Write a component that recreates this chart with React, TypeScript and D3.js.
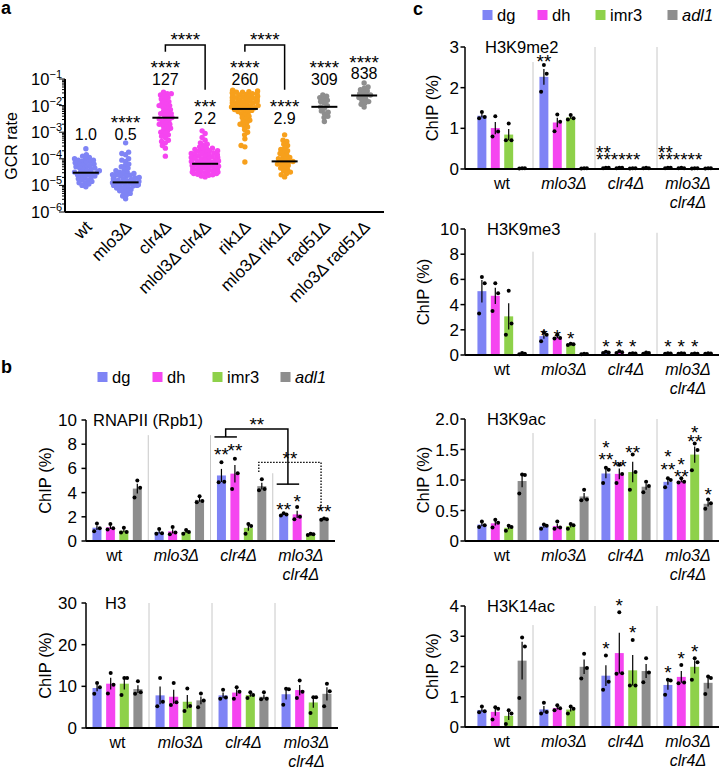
import React from 'react';
import * as d3 from 'd3';

const FONT = '"Liberation Sans", Arial, Helvetica, sans-serif';

// ---------------- Panel a: GCR rate (log10 of each measured rate) ----------------
const gcrCategories = ['wt', 'mlo3Δ', 'clr4Δ', 'mlol3Δ clr4Δ', 'rik1Δ', 'mlo3Δ rik1Δ', 'rad51Δ', 'mlo3Δ rad51Δ'];
const gcrWt = [-3.62, -3.85, -3.9, -3.95, -4.0, -4.0, -4.05, -4.1, -4.1, -4.15, -4.2, -4.2, -4.25, -4.3, -4.3, -4.35, -4.4, -4.4, -4.45, -4.5, -4.5, -4.52, -4.55, -4.6, -4.6, -4.65, -4.7, -4.7, -4.75, -4.8, -4.8, -4.85, -4.9, -4.9, -4.95, -5.0, -5.05, -4.25, -4.35, -4.55, -4.65, -4.45, -4.15, -4.05];
const gcrMlo3 = [-3.4, -3.75, -3.8, -3.85, -4.0, -4.05, -4.1, -4.2, -4.25, -4.3, -4.35, -4.4, -4.45, -4.5, -4.5, -4.55, -4.6, -4.6, -4.65, -4.65, -4.7, -4.7, -4.75, -4.75, -4.8, -4.8, -4.82, -4.85, -4.85, -4.88, -4.9, -4.9, -4.92, -4.95, -4.95, -5.0, -5.0, -5.05, -5.05, -5.1, -5.1, -5.15, -5.2, -5.2, -5.25, -5.3, -5.35, -5.4, -5.5, -4.55, -4.62, -4.72, -4.78, -4.98, -5.02];
const gcrClr4 = [-1.5, -1.55, -1.55, -1.6, -1.7, -1.75, -1.8, -1.85, -1.9, -1.95, -2.0, -2.05, -2.1, -2.15, -2.2, -2.25, -2.3, -2.35, -2.4, -2.45, -2.5, -2.55, -2.6, -2.65, -2.7, -2.75, -2.8, -2.85, -2.9, -2.95, -3.0, -3.05, -3.1, -3.15, -3.2, -3.3, -3.35, -3.4, -3.5, -3.6, -3.9, -2.0, -2.3, -2.5, -2.7, -1.65];
const gcrMlo3Clr4 = [-2.95, -3.05, -3.2, -3.3, -3.4, -3.45, -3.5, -3.55, -3.6, -3.6, -3.65, -3.65, -3.7, -3.7, -3.72, -3.75, -3.78, -3.8, -3.8, -3.82, -3.85, -3.85, -3.88, -3.9, -3.9, -3.92, -3.95, -3.95, -3.98, -4.0, -4.0, -4.02, -4.05, -4.05, -4.08, -4.1, -4.1, -4.12, -4.15, -4.15, -4.18, -4.2, -4.2, -4.22, -4.25, -4.25, -4.28, -4.3, -4.3, -4.32, -4.35, -4.35, -4.38, -4.4, -4.4, -4.42, -4.45, -4.45, -4.48, -4.5, -4.5, -4.52, -4.55, -4.55, -4.58, -4.6, -4.62, -4.65, -4.68];
const gcrRik1 = [-1.42, -1.45, -1.45, -1.48, -1.5, -1.5, -1.52, -1.55, -1.55, -1.58, -1.6, -1.6, -1.62, -1.65, -1.65, -1.68, -1.7, -1.7, -1.72, -1.75, -1.75, -1.78, -1.8, -1.8, -1.82, -1.85, -1.85, -1.88, -1.9, -1.9, -1.92, -1.95, -1.95, -1.98, -2.0, -2.0, -2.02, -2.05, -2.05, -2.08, -2.1, -2.12, -2.15, -2.18, -2.2, -2.22, -2.25, -2.3, -2.35, -2.4, -2.45, -2.5, -2.55, -2.6, -2.65, -2.7, -2.75, -2.8, -2.9, -3.0, -3.1, -3.25, -3.5, -3.55, -4.12];
const gcrMlo3Rik1 = [-3.1, -3.3, -3.35, -3.45, -3.5, -3.6, -3.65, -3.7, -3.75, -3.8, -3.85, -3.9, -3.95, -4.0, -4.0, -4.05, -4.1, -4.1, -4.15, -4.2, -4.2, -4.25, -4.3, -4.35, -4.4, -4.45, -4.5, -4.55, -4.6, -4.68];
const gcrRad51 = [-1.6, -1.65, -1.7, -1.75, -1.8, -1.85, -1.9, -2.0, -2.05, -2.1, -2.2, -2.25, -2.3, -2.4, -2.45, -2.6];
const gcrMlo3Rad51 = [-1.15, -1.3, -1.35, -1.4, -1.45, -1.5, -1.55, -1.6, -1.6, -1.65, -1.7, -1.75, -1.8, -1.85, -1.9, -1.95, -2.05];
const gcrMedians = [3e-5, 1.3e-5, 3.5e-3, 6.5e-5, 7.5e-3, 8e-5, 9e-3, 2.4e-2];
const gcrFoldLabels = ['1.0', '0.5', '127', '2.2', '260', '2.9', '309', '838'];
const gcrStarLabels = ['', '****', '****', '***', '****', '****', '****', '****'];
const gcrLabelLevels = [-3.07, -3.07, -1.0, -2.47, -1.0, -2.47, -1.0, -0.8];
const gcrDecades = [-6, -5, -4, -3, -2, -1];
const gcrBrackets = [
  { from: 2, to: 3, top: 0.28, leftEnd: 0.02, rightEnd: -1.4, label: '****', labelLevel: 0.65 },
  { from: 4, to: 5, top: 0.28, leftEnd: 0.02, rightEnd: -1.4, label: '****', labelLevel: 0.65 },
];
const gcrColors = ['#7f84f5', '#7f84f5', '#f545f0', '#f545f0', '#f7a01c', '#f7a01c', '#8e8e8e', '#8e8e8e'];

// ---------------- Panels b, c: ChIP (%) ----------------
const seriesNames = ['dg', 'dh', 'imr3', 'adl1'];
const seriesColors = ['#7f84f5', '#f545f0', '#8ed14a', '#8e8e8e'];
const groupLabels = [['wt'], ['mlo3Δ'], ['clr4Δ'], ['mlo3Δ', 'clr4Δ']];

// [series][group][replicate]
const rnapiiValues = [
  [[0.8, 1.05, 1.45], [0.6, 0.65, 1.0], [4.85, 4.9, 6.5], [2.1, 2.2, 2.3]],
  [[0.95, 1.05, 1.4], [0.55, 0.7, 1.15], [4.3, 5.6, 6.8], [1.8, 2.0, 2.8]],
  [[0.7, 0.75, 1.1], [0.6, 0.75, 0.9], [0.6, 1.25, 1.4], [0.5, 0.55, 0.6]],
  [[3.6, 4.4, 5.0], [3.2, 3.3, 3.7], [4.2, 4.3, 5.1], [1.75, 1.8, 1.85]],
];
const h3Values = [
  [[8.2, 9.8, 10.8], [5.2, 6.3, 12.0], [7.0, 7.3, 9.2], [5.6, 9.3, 9.4]],
  [[8.3, 10.4, 13.2], [5.5, 6.2, 10.8], [7.0, 8.7, 9.8], [7.2, 8.7, 11.4]],
  [[7.9, 12.0, 12.0], [4.1, 5.3, 9.5], [7.2, 7.9, 8.6], [3.6, 7.4, 7.4]],
  [[8.2, 8.6, 11.2], [5.0, 6.6, 8.3], [6.9, 7.0, 8.6], [5.2, 8.8, 10.6]],
];
const h3k9me2Values = [
  [[1.25, 1.28, 1.4], [1.9, 2.34, 2.56], [0.02, 0.03, 0.03], [0.02, 0.03, 0.03]],
  [[0.8, 0.92, 1.3], [0.93, 1.16, 1.34], [0.02, 0.03, 0.03], [0.02, 0.02, 0.03]],
  [[0.71, 0.71, 1.12], [1.22, 1.25, 1.33], [0.01, 0.02, 0.02], [0.01, 0.02, 0.02]],
  [[0.01, 0.02, 0.02], [0.01, 0.02, 0.02], [0.02, 0.02, 0.03], [0.01, 0.02, 0.02]],
];
const h3k9me3Values = [
  [[3.3, 5.7, 6.2], [1.1, 1.6, 1.8], [0.15, 0.2, 0.25], [0.1, 0.12, 0.14]],
  [[3.5, 4.9, 5.7], [1.3, 1.35, 1.6], [0.15, 0.22, 0.3], [0.1, 0.12, 0.14]],
  [[1.6, 2.5, 5.1], [0.8, 0.85, 0.9], [0.1, 0.12, 0.14], [0.08, 0.1, 0.12]],
  [[0.05, 0.1, 0.15], [0.06, 0.08, 0.1], [0.1, 0.15, 0.2], [0.1, 0.12, 0.14]],
];
const h3k9acValues = [
  [[0.23, 0.26, 0.32], [0.2, 0.25, 0.27], [0.95, 1.17, 1.2], [0.88, 1.0, 1.03]],
  [[0.22, 0.3, 0.35], [0.2, 0.22, 0.32], [0.95, 1.1, 1.25], [0.96, 0.97, 1.03]],
  [[0.17, 0.23, 0.25], [0.2, 0.26, 0.28], [0.84, 1.13, 1.42], [1.16, 1.49, 1.6]],
  [[0.78, 1.08, 1.09], [0.67, 0.68, 0.84], [0.8, 0.9, 0.97], [0.53, 0.62, 0.68]],
];
const h3k14acValues = [
  [[0.49, 0.52, 0.68], [0.45, 0.5, 0.8], [1.23, 1.5, 2.36], [1.07, 1.54, 1.56]],
  [[0.25, 0.6, 0.65], [0.55, 0.62, 0.72], [1.76, 1.78, 3.79], [1.45, 1.47, 2.05]],
  [[0.1, 0.45, 0.55], [0.45, 0.6, 0.68], [1.37, 1.37, 2.88], [1.56, 2.14, 2.27]],
  [[0.96, 2.66, 2.96], [1.6, 1.95, 2.42], [1.48, 1.8, 2.27], [1.09, 1.62, 1.67]],
];

// significance marks: group, series (-1 = left aligned in group), text, level (data units)
type Ann = { g: number; s: number; text: string; v: number };
const rnapiiAnns: Ann[] = [
  { g: 2, s: 0, text: '**', v: 7.5 }, { g: 2, s: 1, text: '**', v: 7.85 },
  { g: 3, s: 0, text: '**', v: 3.0 }, { g: 3, s: 1, text: '*', v: 3.6 }, { g: 3, s: 3, text: '**', v: 2.8 },
];
const h3k9me2Anns: Ann[] = [
  { g: 1, s: 0, text: '**', v: 2.75 },
  { g: 2, s: -1, text: '**', v: 0.52 }, { g: 2, s: -1, text: '******', v: 0.34 },
  { g: 3, s: -1, text: '**', v: 0.52 }, { g: 3, s: -1, text: '******', v: 0.34 },
];
const h3k9me3Anns: Ann[] = [
  { g: 1, s: 0, text: '*', v: 1.93 }, { g: 1, s: 1, text: '*', v: 1.85 }, { g: 1, s: 2, text: '*', v: 1.64 },
  { g: 2, s: 0, text: '*', v: 1.05 }, { g: 2, s: 1, text: '*', v: 1.05 }, { g: 2, s: 2, text: '*', v: 1.05 },
  { g: 3, s: 0, text: '*', v: 1.05 }, { g: 3, s: 1, text: '*', v: 1.05 }, { g: 3, s: 2, text: '*', v: 1.05 },
];
const h3k9acAnns: Ann[] = [
  { g: 2, s: 0, text: '*', v: 1.61 }, { g: 2, s: 0, text: '**', v: 1.41 },
  { g: 2, s: 1, text: '**', v: 1.3 }, { g: 2, s: 2, text: '**', v: 1.52 },
  { g: 3, s: 0, text: '*', v: 1.46 }, { g: 3, s: 0, text: '**', v: 1.25 },
  { g: 3, s: 1, text: '*', v: 1.33 }, { g: 3, s: 1, text: '**', v: 1.13 },
  { g: 3, s: 2, text: '*', v: 1.85 }, { g: 3, s: 2, text: '**', v: 1.7 },
  { g: 3, s: 3, text: '*', v: 0.84 },
];
const h3k14acAnns: Ann[] = [
  { g: 2, s: 0, text: '*', v: 2.74 }, { g: 2, s: 1, text: '*', v: 4.16 }, { g: 2, s: 2, text: '*', v: 3.27 },
  { g: 3, s: 0, text: '*', v: 1.95 }, { g: 3, s: 1, text: '*', v: 2.41 }, { g: 3, s: 2, text: '*', v: 2.64 },
];

const STAR_FS = 19;

function swarmOffsets(ys: number[], d: number, maxW: number): number[] {
  const idx = ys.map((_, i) => i).sort((a, b) => ys[b] - ys[a]);
  const xs = new Array(ys.length).fill(0);
  const placed: number[] = [];
  for (const i of idx) {
    const y = ys[i];
    const intervals: [number, number][] = [];
    for (const j of placed) {
      const dy = Math.abs(ys[j] - y);
      if (dy < d) {
        const w = Math.sqrt(d * d - dy * dy);
        intervals.push([xs[j] - w, xs[j] + w]);
      }
    }
    const cands = [0];
    intervals.forEach(([a, b]) => cands.push(a, b));
    cands.sort((a, b) => Math.abs(a) - Math.abs(b));
    let chosen = 0;
    for (const c of cands) {
      if (intervals.every(([a, b]) => c <= a + 1e-6 || c >= b - 1e-6)) { chosen = c; break; }
    }
    if (Math.abs(chosen) > maxW) {
      const sign = chosen > 0 ? 1 : -1;
      chosen = sign * (maxW - (Math.abs(chosen) - maxW) % (maxW * 0.8));
    }
    xs[i] = chosen;
    placed.push(i);
  }
  return xs;
}

function PanelA() {
  const groups = [gcrWt, gcrMlo3, gcrClr4, gcrMlo3Clr4, gcrRik1, gcrMlo3Rik1, gcrRad51, gcrMlo3Rad51];
  const x = d3.scaleBand<string>().domain(gcrCategories).range([66, 384]);
  const y = d3.scaleLog().domain([1e-6, 1e-1]).range([212, 79]);
  const cx = (i: number) => (x(gcrCategories[i]) as number) + x.bandwidth() / 2;
  const axisX = 65;
  const ticks = y.ticks();
  return (
    <g>
      <text x={1} y={14} fontSize={18} fontWeight="bold">a</text>
      {groups.map((vals, gi) => {
        const ys = vals.map((v) => y(Math.pow(10, v)));
        const offs = swarmOffsets(ys, 4.0, 14);
        return (
          <g key={gi}>
            {ys.map((py, k) => (
              <circle key={k} cx={cx(gi) + offs[k]} cy={py} r={2.7} fill={gcrColors[gi]} />
            ))}
          </g>
        );
      })}
      {gcrMedians.map((m, i) => (
        <line key={i} x1={cx(i) - 13} x2={cx(i) + 13} y1={y(m)} y2={y(m)} stroke="#000" strokeWidth={2} />
      ))}
      <line x1={axisX} x2={axisX} y1={y(1e-1)} y2={y(1e-6)} stroke="#000" strokeWidth={2} />
      <line x1={axisX} x2={384} y1={212} y2={212} stroke="#000" strokeWidth={2} />
      {ticks.map((t, i) => {
        const lg = Math.log10(t);
        const major = Math.abs(lg - Math.round(lg)) < 1e-9;
        return <line key={i} x1={axisX - (major ? 6 : 3)} x2={axisX} y1={y(t)} y2={y(t)} stroke="#000" strokeWidth={1} />;
      })}
      {gcrDecades.map((d) => (
        <text key={d} x={axisX - 3} y={y(Math.pow(10, d)) + 6} fontSize={16.5} textAnchor="end">
          <tspan>10</tspan>
          <tspan dy={-7} fontSize={11}>{'−' + Math.abs(d)}</tspan>
        </text>
      ))}
      <text transform={`translate(11,146) rotate(-90)`} fontSize={16} textAnchor="middle" dominantBaseline="central">GCR rate</text>
      {gcrCategories.map((c, i) => (
        <text key={c} transform={`translate(${cx(i) + 7},228) rotate(-45)`} fontSize={17} textAnchor="end">{c}</text>
      ))}
      {gcrFoldLabels.map((l, i) => {
        const ly = y(Math.pow(10, gcrLabelLevels[i]));
        return (
          <g key={i}>
            <text x={cx(i)} y={ly + 5.7} fontSize={16} textAnchor="middle">{l}</text>
            {gcrStarLabels[i] && (
              <text x={cx(i)} y={ly - 16 + 11} fontSize={STAR_FS} textAnchor="middle">{gcrStarLabels[i]}</text>
            )}
          </g>
        );
      })}
      {gcrBrackets.map((b, i) => {
        const x1 = cx(b.from), x2 = cx(b.to);
        const yt = y(Math.pow(10, b.top));
        return (
          <g key={i}>
            <path d={`M${x1},${y(Math.pow(10, b.leftEnd))}V${yt}H${x2}V${y(Math.pow(10, b.rightEnd))}`} fill="none" stroke="#000" strokeWidth={1.5} />
            <text x={(x1 + x2) / 2} y={y(Math.pow(10, b.labelLevel)) + 11} fontSize={STAR_FS} textAnchor="middle">{b.label}</text>
          </g>
        );
      })}
    </g>
  );
}

function Legend({ x, y }: { x: number[]; y: number }) {
  return (
    <g>
      {seriesNames.map((n, i) => (
        <g key={n}>
          <rect x={x[i] - 14.5} y={y - 5} width={10} height={10} fill={seriesColors[i]} />
          <text x={x[i]} y={y + 6} fontSize={16.5} fontStyle={n === 'adl1' ? 'italic' : 'normal'}>{n}</text>
        </g>
      ))}
    </g>
  );
}

type ChartCfg = {
  title: string; titleX: number; values: number[][][]; yMax: number; ticks: number[];
  axisX: number; x0: number; x1: number; yBottom: number; yTop: number;
  tickGap: number; ylabelX: number; sepTops: number[]; anns: Ann[]; labelDx: number;
  fmt?: (v: number) => string; rnapii?: boolean;
};

function BarChart({ cfg }: { cfg: ChartCfg }) {
  const y = d3.scaleLinear().domain([0, cfg.yMax]).range([cfg.yBottom, cfg.yTop]);
  const gx = d3.scaleBand<number>().domain([0, 1, 2, 3]).range([cfg.x0, cfg.x1]);
  const sx = d3.scaleBand<number>().domain([0, 1, 2, 3]).range([0, gx.bandwidth()]).paddingInner(1 / 3).paddingOuter(0.48);
  const bw = sx.bandwidth();
  const bc = (g: number, s: number) => (gx(g) as number) + (sx(s) as number) + bw / 2;
  const fmt = cfg.fmt || ((v: number) => String(v));
  const dotOff = [-2.8, 2.8, 0];
  return (
    <g>
      {[1, 2, 3].map((g, i) => (
        <line key={g} x1={gx(g) as number} x2={gx(g) as number} y1={y(cfg.sepTops[i])} y2={cfg.yBottom} stroke="#c8c8c8" strokeWidth={1} />
      ))}
      {cfg.values.map((series, s) => series.map((pts, g) => {
        const mean = d3.mean(pts) as number;
        const sd = d3.deviation(pts) as number;
        const sem = sd / Math.sqrt(pts.length);
        const xc = bc(g, s);
        const sorted = [...pts].sort((a, b) => a - b);
        return (
          <g key={`${s}-${g}`}>
            <rect x={xc - bw / 2} y={y(mean)} width={bw} height={cfg.yBottom - y(mean)} fill={seriesColors[s]} />
            <line x1={xc} x2={xc} y1={y(Math.max(0, mean - sem))} y2={y(mean + sem)} stroke="#000" strokeWidth={1.2} />
            {sorted.map((p, k) => (
              <circle key={k} cx={xc + dotOff[k]} cy={y(p)} r={2} fill="#000" />
            ))}
          </g>
        );
      }))}
      <line x1={cfg.axisX} x2={cfg.axisX} y1={cfg.yBottom} y2={cfg.yTop} stroke="#000" strokeWidth={1.5} />
      <line x1={cfg.axisX} x2={cfg.x1} y1={cfg.yBottom} y2={cfg.yBottom} stroke="#000" strokeWidth={2} />
      {cfg.ticks.map((t) => (
        <g key={t}>
          <line x1={cfg.axisX - 4.5} x2={cfg.axisX} y1={y(t)} y2={y(t)} stroke="#000" strokeWidth={1.5} />
          <text x={cfg.axisX - cfg.tickGap} y={y(t) + 6} fontSize={17} textAnchor="end">{fmt(t)}</text>
        </g>
      ))}
      <text transform={`translate(${cfg.ylabelX},${(cfg.yBottom + cfg.yTop) / 2}) rotate(-90)`} fontSize={16.5} textAnchor="middle" dominantBaseline="central">ChIP (%)</text>
      <text x={cfg.titleX} y={cfg.yTop + 6} fontSize={16.5}>{cfg.title}</text>
      {groupLabels.map((lines, g) => (
        <g key={g}>
          {lines.map((l, k) => (
            <text key={k} x={(gx(g) as number) + gx.bandwidth() / 2 + cfg.labelDx} y={cfg.yBottom + 20 + k * 19} fontSize={16} textAnchor="middle" fontStyle={l === 'wt' ? 'normal' : 'italic'}>{l}</text>
          ))}
        </g>
      ))}
      {cfg.anns.map((a, i) => (
        <text key={i} x={a.s < 0 ? (gx(a.g) as number) + 1 : bc(a.g, a.s)} y={y(a.v) + 11} fontSize={STAR_FS} textAnchor={a.s < 0 ? 'start' : 'middle'}>{a.text}</text>
      ))}
      {cfg.rnapii && (() => {
        const l1 = bc(2, 0) - 7, r1 = bc(2, 1) + 2;
        const l2 = bc(3, 0) - 7, r2 = bc(3, 1) + 2;
        const m1 = (l1 + r1) / 2, m2 = (l2 + r2) / 2;
        const d1 = bc(2, 3) - 3, d2 = bc(3, 3) - 3;
        return (
          <g>
            <line x1={l1} x2={r1} y1={y(8.6)} y2={y(8.6)} stroke="#000" strokeWidth={1.5} />
            <line x1={l2} x2={r2} y1={y(4.7)} y2={y(4.7)} stroke="#000" strokeWidth={1.5} />
            <path d={`M${m1},${y(8.6)}V${y(9.25)}H${m2}V${y(4.7)}`} fill="none" stroke="#000" strokeWidth={1.5} />
            <text x={(m1 + m2) / 2} y={y(10.0) + 11} fontSize={STAR_FS} textAnchor="middle">**</text>
            <path d={`M${d1},${y(5.7)}V${y(6.5)}H${d2}V${y(2.6)}`} fill="none" stroke="#000" strokeWidth={1.3} strokeDasharray="1.5,1.5" />
            <text x={(d1 + d2) / 2} y={y(7.2) + 11} fontSize={STAR_FS} textAnchor="middle">**</text>
          </g>
        );
      })()}
    </g>
  );
}

const charts: ChartCfg[] = [
  { title: 'RNAPII (Rpb1)', titleX: 93, values: rnapiiValues, yMax: 10, ticks: [0, 2, 4, 6, 8, 10], axisX: 86, x0: 86, x1: 335, yBottom: 541, yTop: 420, tickGap: 9, ylabelX: 45, sepTops: [8.75, 8.75, 5.6], anns: rnapiiAnns, labelDx: -3, rnapii: true },
  { title: 'H3', titleX: 105, values: h3Values, yMax: 30, ticks: [0, 10, 20, 30], axisX: 86, x0: 86, x1: 338, yBottom: 728, yTop: 603, tickGap: 9, ylabelX: 45, sepTops: [30, 30, 30], anns: [], labelDx: 0 },
  { title: 'H3K9me2', titleX: 485, values: h3k9me2Values, yMax: 3, ticks: [0, 1, 2, 3], axisX: 465, x0: 471, x1: 719, yBottom: 169, yTop: 47, tickGap: 6, ylabelX: 432, sepTops: [2.63, 3, 3], anns: h3k9me2Anns, labelDx: 0 },
  { title: 'H3K9me3', titleX: 487, values: h3k9me3Values, yMax: 10, ticks: [0, 2, 4, 6, 8, 10], axisX: 465, x0: 471, x1: 719, yBottom: 355, yTop: 229, tickGap: 6, ylabelX: 423, sepTops: [8.2, 9.7, 9.7], anns: h3k9me3Anns, labelDx: 0 },
  { title: 'H3K9ac', titleX: 487, values: h3k9acValues, yMax: 2, ticks: [0, 0.5, 1, 1.5, 2], axisX: 465, x0: 471, x1: 719, yBottom: 541, yTop: 419, tickGap: 6, ylabelX: 423, sepTops: [1.77, 2, 2], anns: h3k9acAnns, labelDx: 0, fmt: (v) => (v === 0 ? '0' : v.toFixed(1)) },
  { title: 'H3K14ac', titleX: 487, values: h3k14acValues, yMax: 4, ticks: [0, 1, 2, 3, 4], axisX: 465, x0: 471, x1: 719, yBottom: 727, yTop: 606, tickGap: 6, ylabelX: 432, sepTops: [3.37, 4, 4], anns: h3k14acAnns, labelDx: 0 },
];

export default function App() {
  return (
    <svg width={719} height={768} style={{ position: 'absolute', left: 0, top: 0, background: '#fff' }} fontFamily={FONT}>
      <rect x={0} y={0} width={719} height={768} fill="#fff" />
      <PanelA />
      <text x={1} y={373} fontSize={18} fontWeight="bold">b</text>
      <Legend x={[112, 167, 227, 295]} y={377} />
      <text x={413} y={15} fontSize={18} fontWeight="bold">c</text>
      <Legend x={[497, 552, 610, 682]} y={15} />
      {charts.map((c, i) => <BarChart key={i} cfg={c} />)}
    </svg>
  );
}
